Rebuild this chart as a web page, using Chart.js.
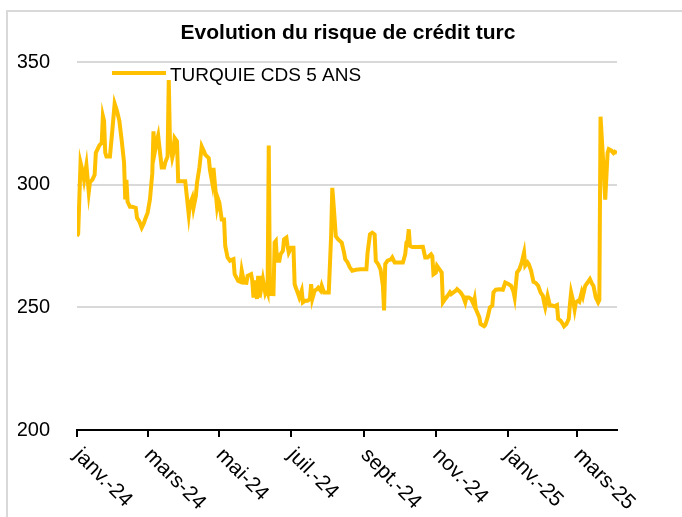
<!DOCTYPE html>
<html>
<head>
<meta charset="utf-8">
<script src="https://cdn.jsdelivr.net/npm/chart.js@4"></script>
<style>
  html, body { margin: 0; padding: 0; background: #fff; overflow: hidden; }
  #wrap { width: 682px; height: 517px; position: relative; }
</style>
</head>
<body>
<div id="wrap"><canvas id="cdsChart" width="682" height="517"></canvas></div>
<script>
// Turkey 5y CDS
// days since 1 Jan 2024
const dayOffsets = [
  0, 1, 3, 5, 6, 8, 10, 11, 13, 15, 16, 18, 19, 21, 22, 23, 24, 25, 28, 30,
  32, 34, 36, 38, 40, 41, 42, 43, 45, 47, 50, 51, 53, 55, 57, 58, 60, 62, 64, 65,
  66, 68, 69, 70, 72, 74, 75, 77, 78, 79, 81, 82, 83, 85, 86, 89, 92, 95, 96, 98,
  99, 101, 102, 104, 106, 108, 109, 112, 113, 115, 116, 117, 119, 120, 121, 123, 125, 126, 128, 130,
  133, 134, 137, 139, 140, 142, 144, 145, 148, 149, 150, 151, 153, 154, 155, 156, 157, 158, 160, 161,
  162, 163, 164, 167, 168, 169, 170, 172, 173, 175, 176, 178, 179, 180, 182, 184, 185, 186, 188, 189,
  191, 192, 194, 196, 198, 199, 200, 202, 204, 205, 207, 208, 210, 212, 214, 216, 217, 218, 220, 222,
  225, 227, 228, 230, 232, 234, 237, 241, 246, 247, 249, 251, 253, 254, 256, 258, 260, 261, 262, 264,
  267, 268, 270, 272, 277, 279, 280, 281, 282, 283, 285, 289, 294, 296, 298, 301, 302, 303, 305, 306,
  309, 310, 311, 313, 315, 317, 318, 320, 322, 323, 326, 328, 330, 331, 333, 335, 337, 338, 339, 342,
  343, 346, 347, 349, 351, 353, 354, 356, 359, 362, 364, 367, 369, 371, 372, 374, 376, 378, 380, 381,
  383, 384, 386, 388, 390, 392, 394, 396, 397, 398, 400, 402, 404, 406, 408, 409, 411, 413, 414, 416,
  418, 419, 420, 422, 423, 424, 426, 427, 429, 430, 432, 434, 436, 438, 439, 441, 443, 444, 445, 447,
  449, 451, 452, 454, 456, 457, 459
];
const cdsValues = [
  279, 280, 309, 305, 302, 308, 297, 301, 302, 304, 313, 315, 316, 317, 328, 326, 313, 311.5, 311.5, 322,
  333, 330, 326, 318, 309, 294, 302, 293, 291, 291, 290.5, 286.5, 285, 282.5, 284.5, 286, 288.5, 294, 304.7, 321.7,
  313, 318, 320, 315.6, 307, 307, 309, 311.5, 342.6, 318, 311, 313, 319, 317.6, 301.4, 301.4, 301.4, 287.8, 292, 294.6,
  290.5, 295.3, 300.7, 306.8, 315.6, 313.5, 312.2, 310.8, 306, 300.7, 306.8, 301.4, 291.2, 294, 292.6, 285.8, 285.8, 275, 270.3, 269,
  269.6, 263.5, 260.8, 260.4, 265, 260.1, 260, 262.8, 263.5, 260.8, 254, 261, 253.4, 262.8, 254, 262.8, 258.8, 261.5, 256, 257.4,
  256, 316, 255.5, 255.4, 276.4, 277, 269, 269, 271.6, 273, 277.7, 278.4, 275, 272.3, 274.3, 274.3, 259.4, 258, 255.4, 254,
  256.8, 252, 252.7, 252.7, 253.4, 259.4, 253.4, 256.8, 257.4, 258, 256.8, 258.8, 256, 256, 256, 279, 298.7, 292.6, 279, 277.7,
  276.4, 272.3, 269.6, 268.3, 266.2, 264.9, 265.3, 265.5, 265.5, 272.3, 279.7, 280.4, 279.7, 268.9, 267.6, 265.5, 258.8, 248.7, 267.6, 269,
  269.6, 270.3, 268.3, 268.3, 268.3, 271.6, 276.4, 277, 281.8, 275, 274.6, 274.6, 274.7, 270.3, 270.3, 271.6, 270.9, 263.5, 264.2, 266.9,
  264.9, 264.2, 252, 253.4, 254.7, 256.1, 255.4, 256.1, 256.8, 257.4, 256.1, 254.7, 252, 254, 254, 253.4, 251.3, 253.4, 249.3, 245.9,
  243.2, 242.3, 242.8, 245.9, 250, 250.7, 256.1, 257.2, 257.4, 257.2, 260.1, 259.4, 258.8, 256.4, 254, 264.2, 265.5, 268.3, 272.3, 267,
  268.3, 267.6, 264.9, 260.4, 259.9, 258.8, 256.1, 254.7, 252, 250, 254.7, 250.7, 250.7, 250.4, 250.9, 245.3, 244.6, 243.2, 242.3, 243.2,
  245.3, 251.3, 256.1, 252, 249.1, 252, 252.7, 252.3, 256.1, 254.5, 258.8, 260.1, 261.5, 259.4, 258.8, 254, 252, 253, 327.7, 311.5,
  293.9, 312.9, 314.5, 314, 312.9, 313.4, 312.9
];

// x axis: one tick every two months
const tickDays = [0, 60, 121, 182, 244, 305, 366, 425];
const tickLabels = ['janv.-24', 'mars-24', 'mai-24', 'juil.-24', 'sept.-24', 'nov.-24', 'janv.-25', 'mars-25'];

const chartTitle = 'Evolution du risque de crédit turc';
const seriesName = 'TURQUIE CDS 5 ANS';

const gold = '#FFC000';
const fontFamily = '"Liberation Sans", Arial, sans-serif';

// frame, title, legend and slanted month labels
const decorPlugin = {
  id: 'decor',
  beforeDraw(chart) {
    const ctx = chart.ctx;
    ctx.save();
    ctx.strokeStyle = '#d9d9d9';
    ctx.lineWidth = 2;
    ctx.beginPath();
    ctx.moveTo(7, chart.height);
    ctx.lineTo(7, 11);
    ctx.lineTo(chart.width, 11);
    ctx.stroke();
    ctx.restore();
  },
  afterDraw(chart) {
    const ctx = chart.ctx;
    const xScale = chart.scales.x;
    ctx.save();
    // title
    ctx.fillStyle = '#000';
    ctx.font = 'bold 21px ' + fontFamily;
    ctx.textAlign = 'center';
    ctx.textBaseline = 'middle';
    ctx.fillText(chartTitle, 348, 33);

    // legend
    ctx.strokeStyle = gold;
    ctx.lineWidth = 4;
    ctx.beginPath();
    ctx.moveTo(112, 73);
    ctx.lineTo(166, 73);
    ctx.stroke();
    ctx.font = '19px ' + fontFamily;
    ctx.textAlign = 'left';
    ctx.fillText(seriesName, 170, 76);

    // month labels, rotated 45 degrees clockwise
    ctx.font = '21px ' + fontFamily;
    ctx.textBaseline = 'middle';
    tickDays.forEach((d, i) => {
      const x = xScale.getPixelForValue(d);
      ctx.save();
      ctx.translate(x, xScale.top + 22);
      ctx.rotate(Math.PI / 4);
      ctx.fillText(tickLabels[i], 0, 0);
      ctx.restore();
    });
    ctx.restore();
  }
};

const points = dayOffsets.map((d, i) => ({ x: d, y: cdsValues[i] }));

new Chart(document.getElementById('cdsChart'), {
  type: 'line',
  data: {
    datasets: [{
      label: seriesName,
      data: points,
      borderColor: gold,
      backgroundColor: gold,
      borderWidth: 4,
      pointRadius: 0,
      tension: 0,
      fill: false
    }]
  },
  options: {
    responsive: false,
    animation: false,
    layout: {
      padding: { top: 62, left: 18, right: 65, bottom: 0 }
    },
    plugins: {
      legend: { display: false },
      title: { display: false },
      tooltip: { enabled: false }
    },
    scales: {
      x: {
        type: 'linear',
        min: 0,
        max: 459,
        afterBuildTicks: function(scale) {
          scale.ticks = tickDays.map(v => ({ value: v }));
        },
        afterFit: function(scale) {
          scale.height = 87;
        },
        ticks: { display: false },
        grid: {
          drawOnChartArea: false,
          drawTicks: true,
          tickLength: 7,
          color: '#000',
          lineWidth: 2
        },
        border: { display: true, color: '#000', width: 2 }
      },
      y: {
        min: 200,
        max: 350,
        afterFit: function(scale) {
          scale.width = 59;
        },
        ticks: {
          stepSize: 50,
          padding: 27,
          color: '#000',
          font: { family: fontFamily, size: 20 }
        },
        grid: {
          drawTicks: false,
          lineWidth: 2,
          color: function(c) {
            return c.tick && c.tick.value === 200 ? 'rgba(0,0,0,0)' : '#d9d9d9';
          }
        },
        border: { display: false }
      }
    }
  },
  plugins: [decorPlugin]
});
</script>
</body>
</html>
